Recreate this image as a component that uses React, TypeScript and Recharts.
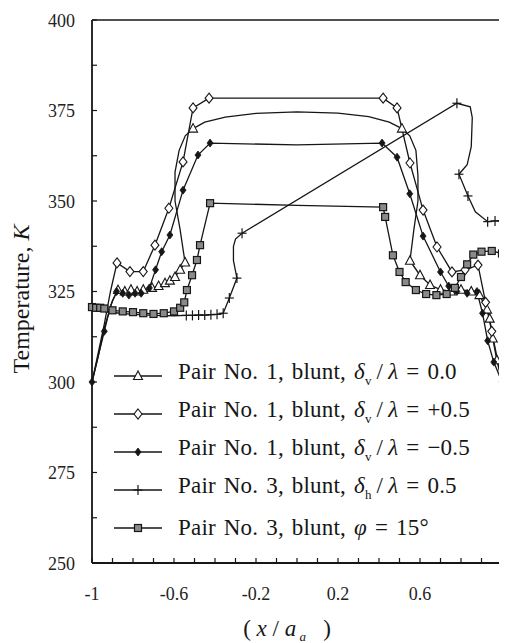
import { ComposedChart, Line, Scatter, XAxis, YAxis, ReferenceLine, Legend } from "recharts"

const FONT = '"Liberation Serif", "Times New Roman", serif'
const INK = "#161616"

// axis ticks
const xTicks = [-1, -0.9, -0.8, -0.7, -0.6, -0.5, -0.4, -0.3, -0.2, -0.1, 0, 0.1, 0.2, 0.3, 0.4, 0.5, 0.6, 0.7, 0.8, 0.9, 1]
const xTickLabels = [-1, -0.6, -0.2, 0.2, 0.6, 1]
const yTicks = [250, 262.5, 275, 287.5, 300, 312.5, 325, 337.5, 350, 362.5, 375, 387.5, 400]
const yTickLabels = [250, 275, 300, 325, 350, 375, 400]

// Pair No. 1, blunt, dv/l = 0.0 (open triangles)
const triX = [-1, -0.97, -0.94, -0.9, -0.873, -0.84, -0.81, -0.78, -0.75, -0.707, -0.675, -0.644, -0.62, -0.595, -0.57, -0.546, -0.57, -0.595, -0.595, -0.575, -0.545, -0.507, -0.45, -0.35, -0.2, 0, 0.2, 0.35, 0.45, 0.512, 0.55, 0.58, 0.59, 0.59, 0.57, 0.551, 0.6, 0.649, 0.7, 0.75, 0.8, 0.85, 0.89, 0.927, 0.94, 0.955, 0.975, 1]
const triY = [300, 307, 315, 322.5, 325.4, 325, 325.5, 325, 325.5, 326, 326.5, 327.3, 328, 329, 331, 333, 342, 350, 358, 364, 368, 370, 371.8, 373.2, 374.2, 374.6, 374.3, 373.3, 371.8, 370, 368, 364, 357, 350, 342, 333.5, 329.5, 326.8, 325.5, 325, 325.5, 325, 324, 320, 317.5, 312, 306, 300]
const triMarkX = [-0.873, -0.84, -0.81, -0.78, -0.75, -0.707, -0.675, -0.644, -0.62, -0.595, -0.57, -0.546, -0.507, 0.512, 0.551, 0.6, 0.649, 0.7, 0.75, 0.8, 0.85, 0.89, 0.927, 0.94, 0.955, 0.975]
const triMarkY = [325.4, 325, 325.5, 325, 325.5, 326, 326.5, 327.3, 328, 329, 331, 333, 370, 370, 333.5, 329.5, 326.8, 325.5, 325, 325.5, 325, 324, 320, 317.5, 312, 306]

// Pair No. 1, blunt, dv/l = +0.5 (open diamonds)
const doX = [-1, -0.97, -0.94, -0.91, -0.878, -0.815, -0.75, -0.693, -0.625, -0.556, -0.507, -0.429, 0, 0.42, 0.488, 0.551, 0.615, 0.683, 0.756, 0.82, 0.883, 0.92, 0.95, 0.975, 1]
const doY = [300, 308, 316, 325, 332.9, 330.5, 330.5, 337.8, 348, 360.8, 375.7, 378.4, 378.4, 378.4, 375.7, 360.5, 347.5, 337.3, 330.4, 331, 332.3, 322, 314, 307, 300]
const doMarkX = [-0.878, -0.815, -0.75, -0.693, -0.625, -0.556, -0.507, -0.429, 0.42, 0.488, 0.551, 0.615, 0.683, 0.756, 0.82, 0.883, 0.92, 0.95]
const doMarkY = [332.9, 330.5, 330.5, 337.8, 348, 360.8, 375.7, 378.4, 378.4, 375.7, 360.5, 347.5, 337.3, 330.4, 331, 332.3, 322, 314]

// Pair No. 1, blunt, dv/l = -0.5 (filled diamonds)
const dfX = [-1, -0.97, -0.94, -0.91, -0.88, -0.85, -0.82, -0.79, -0.76, -0.72, -0.69, -0.66, -0.62, -0.556, -0.483, -0.424, 0, 0.415, 0.488, 0.55, 0.615, 0.7, 0.74, 0.78, 0.83, 0.878, 0.905, 0.93, 0.96, 1]
const dfY = [300, 307, 314, 321, 325, 324.5, 324, 324.5, 324.5, 326, 331, 336, 340.6, 353, 362.7, 366, 365.5, 366, 362.1, 352, 340.3, 330.4, 326.5, 325, 324.5, 325, 319, 311.4, 305.5, 300]
const dfMarkX = [-1, -0.94, -0.88, -0.85, -0.82, -0.79, -0.76, -0.72, -0.69, -0.66, -0.62, -0.556, -0.483, -0.424, 0.415, 0.488, 0.55, 0.615, 0.7, 0.74, 0.78, 0.83, 0.878, 0.905, 0.93, 0.96, 1]
const dfMarkY = [300, 314, 325, 324.5, 324, 324.5, 324.5, 326, 331, 336, 340.6, 353, 362.7, 366, 366, 362.1, 352, 340.3, 330.4, 326.5, 325, 324.5, 325, 319, 311.4, 305.5, 300]

// Pair No. 3, blunt, dh/l = 0.5 (plus)
const plX = [-1, -0.9, -0.8, -0.7, -0.6, -0.54, -0.51, -0.48, -0.45, -0.42, -0.39, -0.36, -0.33, -0.293, -0.31, -0.31, -0.3, -0.268, 0.78, 0.845, 0.855, 0.85, 0.83, 0.79, 0.834, 0.87, 0.93, 0.966, 1]
const plY = [320, 319.2, 318.7, 318.4, 318.3, 318.4, 318.4, 318.5, 318.5, 318.6, 318.7, 319, 323.2, 328.7, 333.5, 337.5, 339.5, 341.1, 377, 376, 373, 365, 360, 357.4, 351.4, 347, 344.3, 344.5, 344.5]
const plMarkX = [-0.54, -0.51, -0.48, -0.45, -0.42, -0.39, -0.36, -0.33, -0.293, -0.268, 0.78, 0.79, 0.834, 0.93, 0.966, 1]
const plMarkY = [318.4, 318.4, 318.5, 318.5, 318.6, 318.7, 319, 323.2, 328.7, 341.1, 377, 357.4, 351.4, 344.3, 344.5, 344.5]

// Pair No. 3, blunt, phi = 15 deg (squares)
const sqX = [-1, -0.98, -0.96, -0.94, -0.9, -0.85, -0.8, -0.75, -0.7, -0.65, -0.6, -0.57, -0.55, -0.537, -0.512, -0.488, -0.473, -0.424, 0, 0.42, 0.43, 0.468, 0.5, 0.53, 0.58, 0.63, 0.68, 0.73, 0.77, 0.8, 0.83, 0.86, 0.9, 0.95, 1]
const sqY = [320.7, 320.5, 320.5, 320.3, 319.8, 319.5, 319.3, 319, 318.8, 319, 319.5, 320.5, 322, 325.4, 329.5, 333.7, 337.8, 349.4, 348.8, 348.3, 345.6, 335, 330.4, 327.6, 325.4, 324.3, 324, 324.3, 326, 329, 332.5, 335.2, 336, 336.2, 335.5]

const zip = (xs: number[], ys: number[]) => xs.map((x, i) => ({ x, y: ys[i] }))

type Kind = "tri" | "dia" | "diaF" | "plus" | "sq"

const series: { kind: Kind; line: { x: number; y: number }[]; marks: { x: number; y: number }[] }[] = [
  { kind: "tri", line: zip(triX, triY), marks: zip(triMarkX, triMarkY) },
  { kind: "dia", line: zip(doX, doY), marks: zip(doMarkX, doMarkY) },
  { kind: "diaF", line: zip(dfX, dfY), marks: zip(dfMarkX, dfMarkY) },
  { kind: "plus", line: zip(plX, plY), marks: zip(plMarkX, plMarkY) },
  { kind: "sq", line: zip(sqX, sqY), marks: zip(sqX, sqY).filter((p) => p.x !== 0) },
]

function Mark({ kind, cx, cy }: { kind: Kind; cx: number; cy: number }) {
  if (kind === "tri")
    return <polygon points={`${cx},${cy - 5} ${cx - 4.5},${cy + 3.5} ${cx + 4.5},${cy + 3.5}`} fill="#fff" stroke={INK} strokeWidth={1.1} />
  if (kind === "dia")
    return <polygon points={`${cx},${cy - 5} ${cx + 4},${cy} ${cx},${cy + 5} ${cx - 4},${cy}`} fill="#fff" stroke={INK} strokeWidth={1.1} />
  if (kind === "diaF")
    return <polygon points={`${cx},${cy - 4} ${cx + 3},${cy} ${cx},${cy + 4} ${cx - 3},${cy}`} fill={INK} stroke={INK} strokeWidth={0.8} />
  if (kind === "plus")
    return (
      <g stroke={INK} strokeWidth={1.2}>
        <line x1={cx - 4.5} x2={cx + 4.5} y1={cy} y2={cy} />
        <line x1={cx} x2={cx} y1={cy - 5} y2={cy + 5} />
      </g>
    )
  return <rect x={cx - 3.5} y={cy - 3.5} width={7} height={7} fill="#8a8a8a" stroke={INK} strokeWidth={1.2} />
}

const sub = { fontSize: 13 }
const gap = { margin: "0 5px" }

const legendRows: { kind: Kind; text: React.ReactNode }[] = [
  { kind: "tri", text: <>Pair No. 1, blunt, <i>δ</i><sub style={sub}>v</sub><span style={gap}>/</span><i>λ</i> = 0.0</> },
  { kind: "dia", text: <>Pair No. 1, blunt, <i>δ</i><sub style={sub}>v</sub><span style={gap}>/</span><i>λ</i> = +0.5</> },
  { kind: "diaF", text: <>Pair No. 1, blunt, <i>δ</i><sub style={sub}>v</sub><span style={gap}>/</span><i>λ</i> = −0.5</> },
  { kind: "plus", text: <>Pair No. 3, blunt, <i>δ</i><sub style={sub}>h</sub><span style={gap}>/</span><i>λ</i> = 0.5</> },
  { kind: "sq", text: <>Pair No. 3, blunt, <i>φ</i> = 15°</> },
]

function LegendBox() {
  return (
    <div style={{ fontFamily: FONT, fontSize: 23, color: INK, letterSpacing: 0.2, wordSpacing: 2 }}>
      {legendRows.map((r, i) => (
        <div key={i} style={{ display: "flex", alignItems: "center", height: 38, whiteSpace: "nowrap" }}>
          <svg width={52} height={20} style={{ flex: "none" }}>
            <line x1={2} x2={50} y1={10} y2={10} stroke={INK} strokeWidth={1.3} />
            <Mark kind={r.kind} cx={26} cy={10} />
          </svg>
          <span style={{ marginLeft: 14, lineHeight: "24px" }}>{r.text}</span>
        </div>
      ))}
    </div>
  )
}

function XTick(props: any) {
  const { x, y, payload } = props
  const v = payload.value
  return (
    <g>
      <line x1={x} x2={x} y1={y} y2={y - 5} stroke={INK} strokeWidth={1.2} />
      {xTickLabels.includes(v) && (
        <text x={x} y={y + 37} textAnchor="middle" fontFamily={FONT} fontSize={18} fill="#222">
          {String(v)}
        </text>
      )}
    </g>
  )
}

function YTick(props: any) {
  const { x, y, payload } = props
  const v = payload.value
  return (
    <g>
      <line x1={x} x2={x + 5} y1={y} y2={y} stroke={INK} strokeWidth={1.2} />
      {yTickLabels.includes(v) && (
        <text x={x - 17} y={y + 6.5} textAnchor="end" fontFamily={FONT} fontSize={18} fill="#222">
          {String(v)}
        </text>
      )}
    </g>
  )
}

const renderXLabel = () => (
  <text x={279} y={628} textAnchor="middle" fontFamily={FONT} fontSize={23} fill={INK}>
    <tspan>(&#160;</tspan>
    <tspan fontStyle="italic">x</tspan>
    <tspan>&#160;/&#160;</tspan>
    <tspan fontStyle="italic">a</tspan>
    <tspan fontStyle="italic" fontSize={13} dy={5}>&#160;a</tspan>
    <tspan dy={-5}>&#160;&#160;&#160;)</tspan>
  </text>
)

const renderYLabel = () => (
  <text transform="translate(13,291) rotate(-90)" textAnchor="middle" dominantBaseline="central" fontFamily={FONT} fontSize={24} fill={INK}>
    Temperature, <tspan fontStyle="italic">K</tspan>
  </text>
)

export default function App() {
  return (
    <ComposedChart width={499} height={635} margin={{ top: 12, right: 5, bottom: 0, left: 0 }}>
      <XAxis
        type="number"
        dataKey="x"
        domain={[-1, 1]}
        ticks={xTicks}
        interval={0}
        height={80}
        tickSize={0}
        tickMargin={0}
        tick={<XTick />}
        axisLine={{ stroke: INK, strokeWidth: 1.8 }}
        label={{ content: renderXLabel }}
      />
      <YAxis
        type="number"
        dataKey="y"
        domain={[250, 400]}
        ticks={yTicks}
        interval={0}
        width={84}
        tickSize={0}
        tickMargin={0}
        tick={<YTick />}
        axisLine={{ stroke: INK, strokeWidth: 1.8 }}
        label={{ content: renderYLabel }}
      />
      <ReferenceLine y={400} stroke={INK} strokeWidth={1.6} />
      <ReferenceLine x={1} stroke={INK} strokeWidth={1.6} />
      {series.map((s) => (
        <Line
          key={`l-${s.kind}`}
          data={s.line}
          dataKey="y"
          type="linear"
          stroke={INK}
          strokeWidth={1.3}
          dot={false}
          activeDot={false}
          isAnimationActive={false}
          legendType="none"
        />
      ))}
      {series.map((s) => (
        <Scatter
          key={`m-${s.kind}`}
          data={s.marks}
          dataKey="y"
          shape={(p: any) => <Mark kind={s.kind} cx={p.cx} cy={p.cy} />}
          isAnimationActive={false}
          legendType="none"
        />
      ))}
      <Legend
        layout="horizontal"
        verticalAlign="middle"
        align="center"
        content={() => <LegendBox />}
        wrapperStyle={{ left: 104, top: 349, width: 390, height: 192 }}
      />
    </ComposedChart>
  )
}
